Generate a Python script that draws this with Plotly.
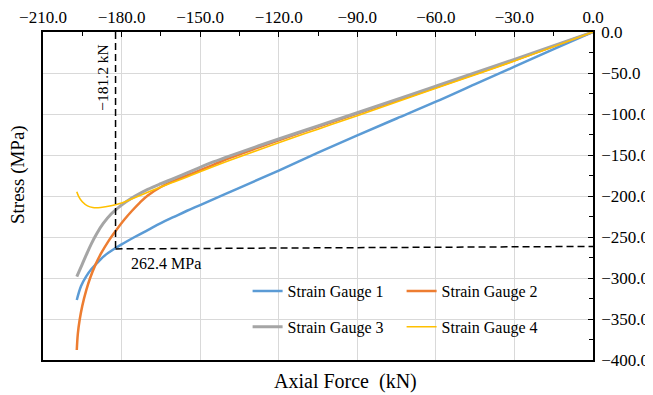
import plotly.graph_objects as go

# ---------------- data ----------------
sg1_force = [0, -15, -30, -45, -60, -75, -90, -105, -120, -135, -150, -155, -160, -165, -170, -175, -180, -183, -186, -189, -191.5, -193.5, -195.5, -197.1]
sg1_stress = [0, -21, -42.3, -63.5, -85, -105.5, -126, -147, -169, -190, -211, -218, -225.5, -233, -241.5, -250, -259, -265, -271.5, -280.5, -289, -298, -310, -326.8]

sg2_force = [0, -30, -60, -90, -105, -120, -138.6, -145, -150, -155, -160, -165, -170, -173, -176, -179, -182, -185, -188, -190, -192, -193.5, -195, -196, -196.7, -197.1]
sg2_stress = [0, -34.5, -67.5, -99.5, -115.5, -132, -153.5, -162, -168.5, -175, -181.5, -189, -199.5, -208, -218, -229, -241.5, -255, -271, -284, -300, -315, -334, -351, -368, -387.8]

sg3_force = [0, -30, -60, -90, -105, -120, -138.6, -145, -150, -155, -160, -165, -170, -175, -178, -181, -184, -187, -189.5, -191.5, -193.3, -195, -197.1]
sg3_stress = [0, -33.3, -66, -98.5, -114.5, -130.5, -151, -158.5, -165, -171.7, -178.5, -185, -192, -200.5, -206.5, -213.5, -222, -233.5, -246, -258, -270.5, -283, -298.4]

sg4_force = [0, -30, -60, -90, -105, -120, -138.6, -150, -155, -160, -165, -170, -175, -180, -184, -188, -191, -193, -195, -196.3, -197.1]
sg4_stress = [0, -35.4, -68.7, -102, -118.5, -135, -156.5, -170.5, -176.8, -183, -189, -195.5, -202, -208.5, -212, -214, -214, -212, -207, -201, -194.8]

series_names = ["Strain Gauge 1", "Strain Gauge 2", "Strain Gauge 3", "Strain Gauge 4"]

# reference (yield) marker lines
vline_force = [-182.3, -182.3]
vline_stress = [0, -264.5]
hline_force = [-182.3, 0]
hline_stress = [-264.5, -261.5]
force_label = "\u2212181.2 kN"
stress_label = "262.4 MPa"

x_range = [-210, 0]
y_range = [-400, 0]

FONT = "Liberation Serif"

colors = ["#5B9BD5", "#ED7D31", "#A5A5A5", "#FFC000"]
widths = [2.5, 2.5, 3, 1.6]
legends = ["legend", "legend2", "legend", "legend2"]

fig = go.Figure()
data = [(sg1_force, sg1_stress), (sg2_force, sg2_stress), (sg3_force, sg3_stress), (sg4_force, sg4_stress)]
for i, (xf, ys) in enumerate(data):
    fig.add_trace(go.Scatter(
        x=xf, y=ys, mode="lines", name=series_names[i],
        line=dict(color=colors[i], width=widths[i], shape="spline", smoothing=1.0),
        legend=legends[i], legendgroup="g%d" % i,
    ))

fig.add_trace(go.Scatter(x=vline_force, y=vline_stress, mode="lines", showlegend=False,
                         line=dict(color="black", width=1.5, dash="7px,4px")))
fig.add_trace(go.Scatter(x=hline_force, y=hline_stress, mode="lines", showlegend=False,
                         line=dict(color="black", width=1.5, dash="7px,4px")))

axis_common = dict(
    showline=True, linecolor="black", linewidth=1.5, mirror=True,
    showgrid=True, gridcolor="#D9D9D9", gridwidth=1,
    ticks="inside", ticklen=5, tickcolor="black", tickwidth=1,
    tickformat=".1f", zeroline=False, automargin=False,
    tickfont=dict(family=FONT, size=17, color="black"),
)

fig.update_xaxes(range=x_range, dtick=30, side="top",
                 minor=dict(ticks="inside", ticklen=4, dtick=15, tickcolor="black", showgrid=False),
                 **axis_common)
fig.update_yaxes(range=y_range, dtick=50, side="right", ticklabelstandoff=3,
                 minor=dict(ticks="inside", ticklen=4, dtick=25, tickcolor="black", showgrid=False),
                 **axis_common)

legend_common = dict(
    orientation="v", bgcolor="rgba(255,255,255,0)", borderwidth=0,
    font=dict(family=FONT, size=16, color="black"),
    xanchor="left", yanchor="top", tracegroupgap=12, itemwidth=30,
)

# page body adds an 8px offset, so the figure is 8px smaller on each axis
fig.update_layout(
    width=645, height=387,
    margin=dict(l=35, r=60, t=24, b=35, autoexpand=False),
    paper_bgcolor="white", plot_bgcolor="white",
    font=dict(family=FONT, color="black"),
    legend=dict(x=0.372, y=0.262, **legend_common),
    legend2=dict(x=0.652, y=0.262, **legend_common),
    shapes=[dict(type="rect", xref="paper", yref="paper", layer="between",
                 x0=(250 - 43) / 550, x1=(557 - 43) / 550,
                 y0=(360 - 345) / 328, y1=(360 - 277) / 328,
                 fillcolor="white", line=dict(width=0))],
    annotations=[
        dict(text="Axial Force\u00a0 (kN)", xref="paper", yref="paper", x=0.5504, y=-0.067,
             xanchor="center", yanchor="middle", showarrow=False,
             font=dict(family=FONT, size=20, color="black")),
        dict(text="Stress (MPa)", xref="paper", yref="paper", x=-0.0455, y=0.567,
             xanchor="center", yanchor="middle", textangle=-90, showarrow=False,
             font=dict(family=FONT, size=19, color="black")),
        dict(text=force_label, xref="x", yref="y", x=-187.2, y=-56,
             xanchor="center", yanchor="middle", textangle=-90, showarrow=False,
             font=dict(family=FONT, size=15.5, color="black")),
        dict(text=stress_label, xref="x", yref="y", x=-163.1, y=-282.9,
             xanchor="center", yanchor="middle", showarrow=False,
             font=dict(family=FONT, size=16, color="black")),
    ],
)

fig.write_html("out.html")
